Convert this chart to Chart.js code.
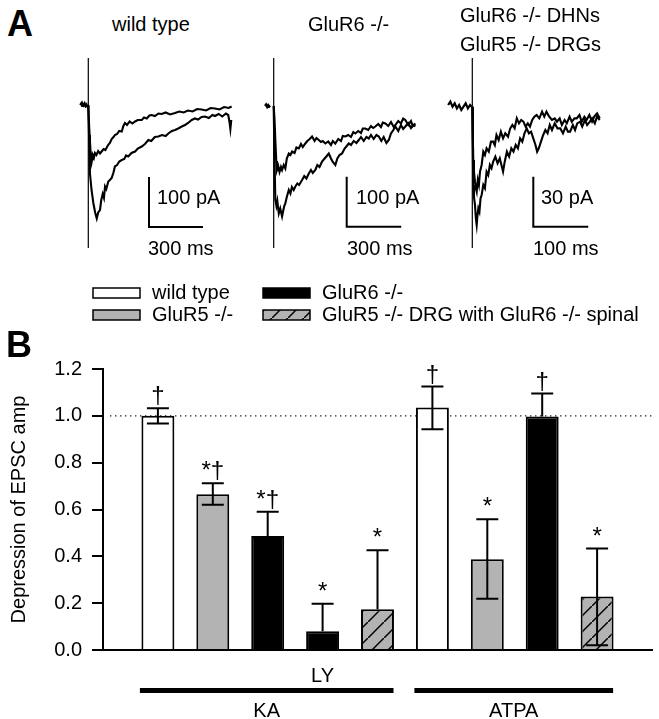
<!DOCTYPE html>
<html>
<head>
<meta charset="utf-8">
<script src="https://cdn.jsdelivr.net/npm/chart.js@4.4.1/dist/chart.umd.min.js"></script>
<style>
  body { margin: 0; background: #fff; }
  #page { position: relative; width: 659px; height: 719px; overflow: hidden; background: #fff; }
  canvas { position: absolute; }
  .t { position: absolute; font-family: "Liberation Sans", Arial, sans-serif; line-height: 1; white-space: nowrap; color: #000; }
</style>
</head>
<body>
<div id="page">
  <canvas id="a1" width="170" height="210" style="left:70px;top:50px"></canvas>
  <canvas id="a2" width="175" height="210" style="left:255px;top:50px"></canvas>
  <canvas id="a3" width="175" height="210" style="left:440px;top:50px"></canvas>
  <canvas id="b" width="659" height="449" style="left:0;top:270px"></canvas>
</div>
<script>
// ---- panel B data ----
const categories = [
  "KA wild type", "KA GluR5 -/-", "KA GluR6 -/-", "KA + LY GluR6 -/-", "KA GluR5 -/- DRG / GluR6 -/- spinal",
  "ATPA wild type", "ATPA GluR5 -/-", "ATPA GluR6 -/-", "ATPA GluR5 -/- DRG / GluR6 -/- spinal"
];
const seriesNames = ["wild type", "GluR5 -/-", "GluR6 -/-", "GluR5 -/- DRG with GluR6 -/- spinal"];
const barSeries = [0, 1, 2, 2, 3, 0, 1, 2, 3];
const means = [1.00, 0.665, 0.487, 0.08, 0.174, 1.036, 0.388, 0.997, 0.228];
const errUpper = [1.032, 0.712, 0.59, 0.197, 0.426, 1.125, 0.558, 1.095, 0.433];
const errLower = [0.967, 0.62, null, null, null, 0.943, 0.219, null, 0.02];
const marks = ["\u2020", "*\u2020", "*\u2020", "*", "*", "\u2020", "*", "\u2020", "*"];
const tickLabels = ["", "", "", "LY", "", "", "", "", ""];
const yTicks = [0, 0.2, 0.4, 0.6, 0.8, 1.0, 1.2];
const treatments = [
  { name: "KA", first: 0, last: 4 },
  { name: "ATPA", first: 5, last: 8 }
];
const refLine = 1.0;

// ---- panel A data: [ms, pA] ----
const traceTitles = ["wild type", "GluR6 -/-", "GluR6 -/- DHNs\nGluR5 -/- DRGs"];
const scaleBarMs = [300, 300, 100];
const scaleBarPA = [100, 100, 30];

const base1 = [[-45,0],[-40,3],[-35,-2],[-30,2],[-25,-1],[-20,3],[-15,-2],[-10,1],[-5,-3],[0,0]];
const fast1 = [[0,0],[5,-45],[12,-90],[19,-113],[25,-100],[31,-106],[37,-96],[45,-100],[55,-92],[65,-97],[74,-93],[85,-88],[95,-90],[110,-80],[120,-76],[130,-68],[140,-64],[148,-60],[160,-58],[172,-52],[186,-53],[195,-42],[204,-36],[215,-40],[230,-33],[245,-37],[260,-33],[275,-30],[297,-30],[310,-25],[325,-27],[340,-21],[352,-20],[370,-22],[390,-17],[408,-18],[430,-15],[455,-19],[482,-16],[505,-13],[530,-15],[554,-11],[580,-13],[605,-8],[630,-9],[655,-11],[680,-6],[704,-7],[730,-9],[755,-4],[780,-6],[797,-3]];
const slow1 = [[0,0],[4,-60],[9,-136],[18,-170],[28,-196],[38,-215],[47,-227],[55,-215],[65,-210],[72,-190],[80,-178],[87,-186],[93,-163],[100,-168],[111,-153],[120,-150],[130,-146],[140,-135],[148,-123],[160,-120],[172,-113],[186,-110],[200,-108],[210,-101],[222,-103],[240,-96],[260,-93],[275,-87],[297,-83],[315,-78],[334,-70],[350,-72],[370,-64],[389,-63],[410,-60],[430,-62],[445,-57],[465,-52],[482,-50],[500,-47],[520,-43],[538,-40],[555,-36],[575,-30],[593,-27],[610,-29],[630,-24],[649,-23],[670,-26],[690,-20],[704,-22],[725,-18],[745,-23],[765,-17],[778,-20],[786,-36],[790,-48],[795,-30]];

const base2 = [[-48,0],[-42,3],[-36,-2],[-30,2],[-24,-1],[-20,1]];
const fast2 = [[0,0],[5,-30],[9,-68],[14,-110],[18,-128],[25,-120],[32,-132],[40,-122],[46,-128],[55,-118],[64,-125],[72,-105],[83,-95],[92,-98],[101,-91],[115,-94],[125,-83],[138,-85],[150,-76],[160,-82],[174,-75],[185,-70],[198,-66],[211,-61],[225,-70],[235,-64],[248,-68],[260,-72],[270,-70],[284,-75],[300,-71],[315,-78],[325,-70],[339,-75],[355,-66],[370,-70],[380,-60],[394,-61],[410,-58],[425,-62],[438,-52],[449,-55],[465,-50],[480,-54],[490,-45],[504,-45],[520,-48],[535,-40],[547,-44],[559,-41],[575,-36],[590,-42],[600,-33],[614,-35],[630,-40],[645,-32],[660,-42],[669,-38],[685,-30],[700,-35],[712,-25],[724,-28],[740,-38],[755,-30],[765,-40],[779,-35]];
const slow2 = [[0,0],[4,-100],[9,-188],[15,-200],[20,-190],[28,-215],[36,-205],[46,-221],[52,-210],[58,-200],[64,-195],[72,-182],[83,-168],[92,-175],[100,-162],[110,-168],[119,-161],[130,-155],[140,-158],[156,-148],[168,-140],[180,-145],[193,-135],[205,-128],[215,-134],[229,-128],[240,-118],[252,-122],[266,-111],[280,-105],[292,-100],[303,-95],[315,-105],[325,-112],[339,-118],[350,-105],[362,-98],[376,-95],[390,-85],[402,-80],[413,-75],[425,-78],[440,-70],[455,-74],[468,-68],[480,-62],[495,-70],[510,-62],[523,-65],[535,-58],[550,-66],[565,-58],[578,-61],[592,-70],[605,-62],[620,-74],[633,-68],[645,-55],[658,-48],[669,-41],[685,-50],[700,-38],[712,-46],[724,-41],[740,-34],[755,-44],[768,-38],[779,-41]];

const base3 = [[-44,0],[-40,2],[-36,-1],[-32,1],[-28,-2],[-24,0],[-20,-3],[-16,-1],[-12,1],[-8,-2],[-4,0],[-1,-1]];
const fast3 = [[0,-1],[1,-20],[1.8,-33],[3,-40],[4.9,-46],[6.5,-50],[8,-52],[10,-45],[12,-48],[14,-40],[17,-36],[20,-28],[23,-30],[26,-26],[30,-28],[34,-22],[38,-22],[41,-24],[44,-18],[48,-21],[52,-16],[56,-20],[60,-17],[65,-19],[69,-14],[73,-12],[77,-14],[81,-8],[85,-11],[89,-9],[93,-10],[97,-13],[101,-11],[105,-13],[109,-9],[113,-7],[117,-6],[122,-8],[127,-4],[131,-7],[135,-4],[140,-7],[145,-9],[150,-8],[154,-10],[159,-8],[163,-12],[168,-9],[172,-11],[177,-7],[181,-10],[186,-8],[190,-8],[195,-6],[199,-10],[204,-7],[208,-9],[213,-6],[218,-10],[222,-7],[227,-5],[232,-8]];
const slow3 = [[0,-1],[1,-30],[1.8,-48],[3,-55],[4.9,-60],[6.5,-68],[8,-72],[9.5,-66],[11,-62],[13,-64],[15,-56],[17,-54],[20,-48],[23,-50],[26,-40],[29,-42],[32,-36],[35,-38],[38,-34],[42,-31],[46,-35],[50,-32],[53,-36],[56,-40],[59,-34],[63,-28],[67,-31],[71,-26],[75,-28],[79,-24],[83,-26],[87,-20],[91,-22],[95,-17],[99,-14],[103,-17],[107,-16],[111,-20],[115,-24],[118,-28],[121,-26],[125,-22],[129,-18],[133,-15],[137,-17],[141,-12],[145,-15],[150,-11],[155,-14],[160,-14],[165,-17],[170,-13],[174,-16],[178,-16],[183,-12],[187,-15],[191,-11],[196,-10],[200,-13],[205,-9],[209,-12],[214,-10],[218,-8],[223,-11],[227,-7],[232,-9]];

// ---- layout / style ----
const FONT = '"Liberation Sans", Arial, sans-serif';
Chart.defaults.font.family = FONT;
Chart.defaults.color = "#000";
const GREY = "#b3b3b3";

// page-pixel layout of each trace panel (origin = stimulus time / baseline level)
const panelsA = [
  { id: "a1", left: 70,  top: 50, w: 170, h: 210, x0: 88.3,  y0: 105, msPx: 5.56, pAPx: 2,   bar: [149, 227],   art: [58, 248] },
  { id: "a2", left: 255, top: 50, w: 175, h: 210, x0: 273.7, y0: 106, msPx: 5.5,  pAPx: 2,   bar: [346.7, 226.7], art: [58, 248] },
  { id: "a3", left: 440, top: 50, w: 175, h: 210, x0: 472.3, y0: 105, msPx: 1.82, pAPx: 0.6, bar: [533.3, 226.7], art: [58, 248] }
];
const traceData = [[base1, fast1, slow1], [base2, fast2, slow2], [base3, fast3, slow3]];

const pts = arr => arr.map(([x, y]) => ({ x, y }));

panelsA.forEach((p, k) => {
  const [base, fast, slow] = traceData[k];
  const toMs = px => (px - p.x0) * p.msPx;
  const toPA = py => (p.y0 - py) * p.pAPx;
  const cx = toMs(p.bar[0]), cy = toPA(p.bar[1]);
  const line = (data, w) => ({ data: pts(data), borderColor: "#000", borderWidth: w, pointRadius: 0, tension: 0, fill: false });
  new Chart(document.getElementById(p.id), {
    type: "line",
    data: {
      datasets: [
        line(base, 2.2),
        line(fast, 2.1),
        line(slow, 2.1),
        line([[0, toPA(p.art[0])], [0, toPA(p.art[1])]], 1.2),
        line([[cx, cy + scaleBarPA[k]], [cx, cy], [cx + scaleBarMs[k], cy]], 2)
      ]
    },
    options: {
      responsive: false, animation: false, devicePixelRatio: 1, events: [],
      layout: { padding: 0 },
      plugins: { legend: { display: false }, tooltip: { enabled: false } },
      scales: {
        x: { type: "linear", display: false, min: toMs(p.left), max: toMs(p.left + p.w) },
        y: { type: "linear", display: false, min: toPA(p.top + p.h), max: toPA(p.top) }
      }
    }
  });
});

// ---- panel B ----
const bctx = document.getElementById("b").getContext("2d");
function hatchPattern(size) {
  const c = document.createElement("canvas");
  c.width = c.height = size;
  const g = c.getContext("2d");
  g.fillStyle = GREY;
  g.fillRect(0, 0, size, size);
  g.strokeStyle = "#000";
  g.lineWidth = 1.5;
  g.beginPath();
  g.moveTo(-2, size + 2);
  g.lineTo(size + 2, -2);
  g.stroke();
  return bctx.createPattern(c, "repeat");
}
const fills = ["#fff", GREY, "#000", hatchPattern(16)];

const labels = ["", ...categories, ""];
const datasets = seriesNames.map((name, s) => ({
  label: name,
  data: labels.map((_, i) => (i > 0 && i <= means.length && barSeries[i - 1] === s) ? means[i - 1] : null),
  backgroundColor: fills[s],
  borderColor: "#000",
  borderWidth: 2,
  grouped: false,
  barPercentage: 0.6,
  categoryPercentage: 1
}));

const extras = {
  id: "extras",
  beforeDatasetsDraw(chart) {
    const { ctx, chartArea, scales: { y } } = chart;
    const py = y.getPixelForValue(refLine);
    ctx.save();
    ctx.strokeStyle = "#222";
    ctx.lineWidth = 1.4;
    ctx.setLineDash([1.4, 3.6]);
    ctx.beginPath();
    ctx.moveTo(chartArea.left + 7, py);
    ctx.lineTo(chartArea.right, py);
    ctx.stroke();
    ctx.restore();
  },
  afterDatasetsDraw(chart) {
    const { ctx, scales: { x, y } } = chart;
    ctx.save();
    ctx.strokeStyle = "#000";
    ctx.fillStyle = "#000";
    ctx.lineWidth = 2;
    ctx.font = "24px " + FONT;
    ctx.textAlign = "center";
    ctx.textBaseline = "alphabetic";
    means.forEach((m, i) => {
      const px = x.getPixelForValue(i + 1);
      const pm = y.getPixelForValue(m);
      const pu = y.getPixelForValue(errUpper[i]);
      ctx.beginPath();
      ctx.moveTo(px, pm); ctx.lineTo(px, pu);
      ctx.moveTo(px - 11, pu); ctx.lineTo(px + 11, pu);
      if (errLower[i] !== null) {
        const pl = y.getPixelForValue(errLower[i]);
        ctx.moveTo(px, pm); ctx.lineTo(px, pl);
        ctx.moveTo(px - 11, pl); ctx.lineTo(px + 11, pl);
      }
      ctx.stroke();
      ctx.fillText(marks[i], px, pu - 5);
    });
    ctx.restore();
  },
  afterDraw(chart) {
    const { ctx, scales: { x } } = chart;
    ctx.save();
    ctx.fillStyle = "#000";
    ctx.strokeStyle = "#000";
    ctx.font = "20px " + FONT;
    // treatment bars
    ctx.textAlign = "center";
    ctx.textBaseline = "alphabetic";
    treatments.forEach(t => {
      const x1 = x.getPixelForValue(t.first + 1) - 18;
      const x2 = x.getPixelForValue(t.last + 1) + 16;
      ctx.fillRect(x1, 418, x2 - x1, 5);
      ctx.fillText(t.name, (x1 + x2) / 2, 447);
    });
    // legend, two rows, column-major
    ctx.textAlign = "left";
    ctx.textBaseline = "middle";
    ctx.lineWidth = 1.5;
    const colX = [93, 263], rowY = [23, 45];
    seriesNames.forEach((name, s) => {
      const lx = colX[Math.floor(s / 2)], ly = rowY[s % 2];
      ctx.fillStyle = fills[s];
      ctx.fillRect(lx, ly - 5, 47, 10);
      ctx.strokeRect(lx, ly - 5, 47, 10);
      ctx.fillStyle = "#000";
      ctx.fillText(name, lx + 59, ly);
    });
    ctx.restore();
  }
};

new Chart(bctx, {
  type: "bar",
  data: { labels, datasets },
  options: {
    responsive: false, animation: false, devicePixelRatio: 1, events: [],
    layout: { padding: { top: 99, right: 7, left: 0, bottom: 0 } },
    plugins: { legend: { display: false }, tooltip: { enabled: false } },
    scales: {
      x: {
        offset: false,
        grid: { display: false },
        border: { display: true, color: "#000", width: 2 },
        ticks: {
          autoSkip: false, maxRotation: 0, padding: 6,
          font: { size: 20 },
          callback: (v, i) => tickLabels[i - 1] || ""
        },
        afterFit: s => { s.height = 69; }
      },
      y: {
        min: 0, max: 1.2,
        afterBuildTicks: s => { s.ticks = yTicks.map(v => ({ value: v })); },
        grid: { drawOnChartArea: false, drawTicks: true, tickLength: 11, color: "#000", lineWidth: 2 },
        border: { display: true, color: "#000", width: 2 },
        ticks: { padding: 10, font: { size: 20 }, callback: v => v.toFixed(1) },
        title: { display: true, text: "Depression of EPSC amp", font: { size: 20 }, padding: { top: 7, bottom: 0 } },
        afterFit: s => { s.width = 103; }
      }
    }
  },
  plugins: [extras]
});

// ---- text of panel A and panel letters ----
const page = document.getElementById("page");
function addText(str, left, baseline, size, bold) {
  const d = document.createElement("div");
  d.className = "t";
  d.textContent = str;
  d.style.left = left + "px";
  d.style.top = (baseline - 0.8465 * size) + "px";
  d.style.fontSize = size + "px";
  if (bold) d.style.fontWeight = "bold";
  page.appendChild(d);
}
addText("A", 7, 36, 36, true);
addText("B", 6, 357, 36, true);
addText(traceTitles[0], 112, 31, 20);
addText(traceTitles[1], 308, 31, 20);
const t3 = traceTitles[2].split("\n");
addText(t3[0], 460, 22, 20);
addText(t3[1], 460, 51, 20);
const barLabelPos = [[157, 148], [356, 347], [541, 533]];
panelsA.forEach((p, k) => {
  addText(scaleBarPA[k] + " pA", barLabelPos[k][0], 204, 20);
  addText(scaleBarMs[k] + " ms", barLabelPos[k][1], 255, 20);
});
</script>
</body>
</html>
